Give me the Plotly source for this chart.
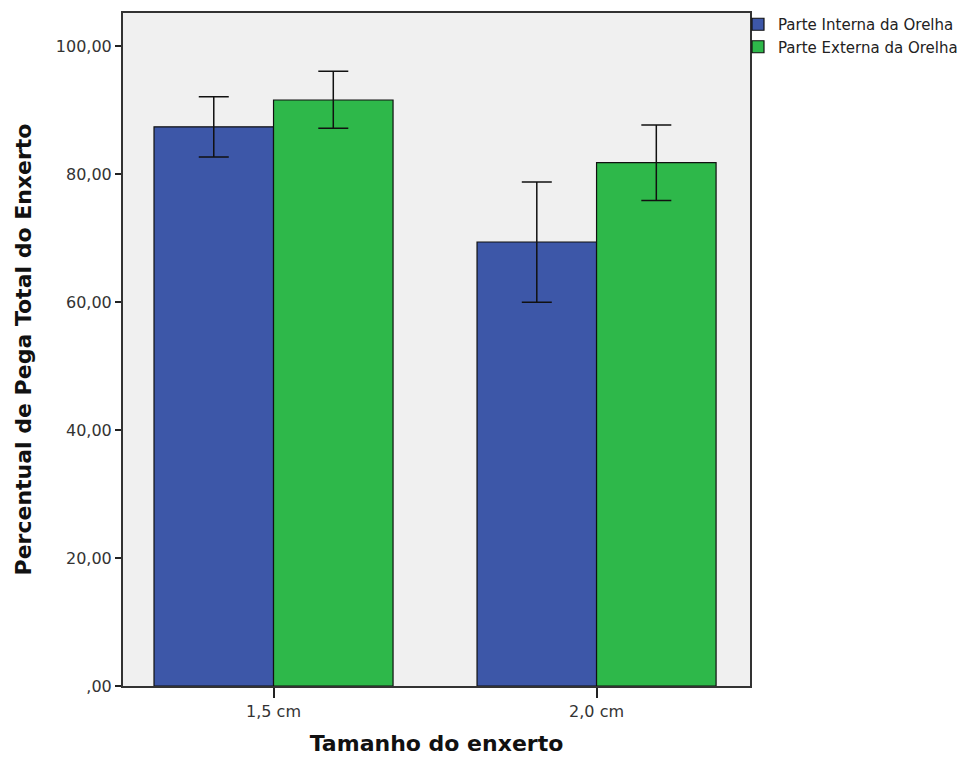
import plotly.graph_objects as go

categories = ["1,5 cm", "2,0 cm"]
series_names = ["Parte Interna da Orelha", "Parte Externa da Orelha"]
interna = [87.4, 69.4]
interna_hi = [92.1, 78.8]
interna_lo = [82.7, 60.0]
externa = [91.6, 81.8]
externa_hi = [96.1, 87.7]
externa_lo = [87.2, 75.9]
ytick_vals = [0, 20, 40, 60, 80, 100]
ytick_text = [",00", "20,00", "40,00", "60,00", "80,00", "100,00"]

colors = ["#3d57a8", "#2eb84a"]
xpos = list(range(len(categories)))

fig = go.Figure()
for name, vals, hi, lo, col in [
    (series_names[0], interna, interna_hi, interna_lo, colors[0]),
    (series_names[1], externa, externa_hi, externa_lo, colors[1]),
]:
    fig.add_trace(go.Bar(
        x=xpos, y=vals, name=name,
        marker=dict(color=col, line=dict(color="#111111", width=1.2)),
        error_y=dict(type="data", symmetric=False,
                     array=[h - v for h, v in zip(hi, vals)],
                     arrayminus=[v - l for v, l in zip(vals, lo)],
                     color="#111111", thickness=1.5, width=15),
    ))

fig.update_layout(
    width=967, height=750,
    margin=dict(l=115, r=225, t=0, b=72),
    paper_bgcolor="white", plot_bgcolor="#f0f0f0",
    barmode="group", bargap=0.26, bargroupgap=0,
    font=dict(family="DejaVu Sans", color="#222222"),
    showlegend=True,
    legend=dict(x=1 - 12 / 627, xanchor="left", y=1.008, yanchor="top",
                font=dict(size=15, color="#222222"),
                bgcolor="rgba(0,0,0,0)", tracegroupgap=0,
                itemwidth=30),
    xaxis=dict(
        range=[-0.466, 1.475],
        tickvals=xpos, ticktext=categories,
        ticks="outside", ticklen=10, tickcolor="#222222", tickwidth=1.5,
        tickfont=dict(size=16, color="#333333"),
        showline=True, linecolor="#333333", linewidth=2, mirror=True,
        showgrid=False, zeroline=False,
        title=dict(text="<b>Tamanho do enxerto</b>", font=dict(size=22, color="#111111"), standoff=15),
    ),
    yaxis=dict(
        range=[0, 105.2],
        tickvals=ytick_vals, ticktext=ytick_text,
        ticks="outside", ticklen=6, tickcolor="#222222", tickwidth=1.5,
        tickfont=dict(size=16, color="#333333"),
        showline=True, linecolor="#333333", linewidth=2, mirror=True,
        showgrid=False, zeroline=False,
        title=dict(text="<b>Percentual de Pega Total do Enxerto</b>", font=dict(size=22, color="#111111"), standoff=18),
    ),
)

fig.write_html("out.html")
